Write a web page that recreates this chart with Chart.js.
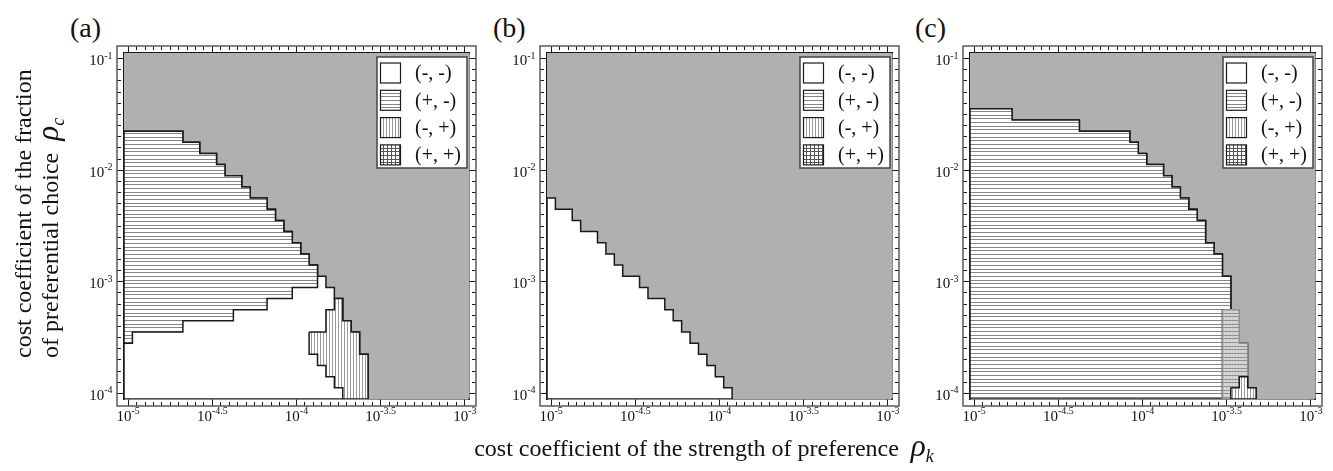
<!DOCTYPE html>
<html lang="en">
<head>
<meta charset="utf-8">
<title>Cost coefficient phase diagrams</title>
<script src="https://cdn.jsdelivr.net/npm/chart.js@4.4.1/dist/chart.umd.min.js"></script>
<style>
    html, body { margin: 0; padding: 0; background: #ffffff; }
    body { position: relative; width: 1333px; height: 471px; overflow: hidden; font-family: "Liberation Serif", "Times New Roman", serif; color: #111; }
    canvas { position: absolute; top: 0; }
    .panel-label { position: absolute; top: 14px; font-size: 28px; line-height: 1; }
    .axis-title { position: absolute; font-size: 24px; line-height: 1; white-space: nowrap; }
    .axis-title i { font-size: 1.3em; line-height: 0; }
    .axis-title sub { font-style: italic; font-size: 0.75em; line-height: 0; }
    .rot { transform: rotate(-90deg); transform-origin: 0 0; }
</style>
</head>
<body>
<div class="panel-label" style="left:70px">(a)</div>
<div class="panel-label" style="left:493px">(b)</div>
<div class="panel-label" style="left:915px">(c)</div>
<canvas id="chartA" width="445" height="471" style="left:34px"></canvas>
<canvas id="chartB" width="445" height="471" style="left:457px"></canvas>
<canvas id="chartC" width="445" height="471" style="left:880px"></canvas>
<div class="axis-title rot" style="left:11px; top:358px">cost coefficient of the fraction</div>
<div class="axis-title rot" style="left:38px; top:358px">of preferential choice&nbsp; <i>ρ</i><sub>c</sub></div>
<div class="axis-title" style="left:704px; top:436px; transform: translateX(-50%)">cost coefficient of the strength of preference&nbsp; <i>ρ</i><sub>k</sub></div>
<script>
// log10 of rho_k, one column of the diagram per value
var rhoK = [-5, -4.95, -4.9, -4.85, -4.8, -4.75, -4.7, -4.65, -4.6, -4.55,
            -4.5, -4.45, -4.4, -4.35, -4.3, -4.25, -4.2, -4.15, -4.1, -4.05,
            -4, -3.95, -3.9, -3.85, -3.8, -3.75, -3.7, -3.65, -3.6, -3.55,
            -3.5, -3.45, -3.4, -3.35, -3.3, -3.25, -3.2, -3.15, -3.1, -3.05, -3];
// log10 of rho_c, one row per value
var rhoC = [-4, -3.9, -3.8, -3.7, -3.6, -3.5, -3.4, -3.3, -3.2, -3.1,
            -3, -2.9, -2.8, -2.7, -2.6, -2.5, -2.4, -2.3, -2.2, -2.1,
            -2, -1.9, -1.8, -1.7, -1.6, -1.5, -1.4, -1.3, -1.2, -1.1, -1];
var xTickLabels = ["-5", "-4.5", "-4", "-3.5", "-3"];
var yTickLabels = ["-4", "-3", "-2", "-1"];
var regionNames = ["(-, -)", "(+, -)", "(-, +)", "(+, +)"];

// (a) lowest log10(rho_c) of the gray area in each column
var grayA = [-1.6, -1.6, -1.6, -1.6, -1.6, -1.6, -1.6, -1.7, -1.7, -1.8,
             -1.8, -1.9, -2, -2, -2.1, -2.2, -2.2, -2.3, -2.4, -2.5,
             -2.6, -2.7, -2.8, -2.9, -3, -3.1, -3.3, -3.4, -3.6, -4,
             -4, -4, -4, -4, -4, -4, -4, -4, -4, -4, -4];
// (a) region (+, -): lowest and highest row in each column
var plusMinusLoA = [-3.5, -3.4, -3.4, -3.4, -3.4, -3.4, -3.4, -3.3, -3.3, -3.3,
                    -3.3, -3.3, -3.3, -3.2, -3.2, -3.2, -3.2, -3.1, -3.1, -3.1,
                    -3, -3, -3, null, null, null, null, null, null, null,
                    null, null, null, null, null, null, null, null, null, null, null];
var plusMinusHiA = [-1.7, -1.7, -1.7, -1.7, -1.7, -1.7, -1.7, -1.8, -1.8, -1.9,
                    -1.9, -2, -2.1, -2.1, -2.2, -2.3, -2.3, -2.4, -2.5, -2.6,
                    -2.7, -2.8, -2.9, null, null, null, null, null, null, null,
                    null, null, null, null, null, null, null, null, null, null, null];
// (a) region (-, +)
var minusPlusLoA = [null, null, null, null, null, null, null, null, null, null,
                    null, null, null, null, null, null, null, null, null, null,
                    null, null, -3.6, -3.7, -3.8, -3.9, -4, -4, -4, null,
                    null, null, null, null, null, null, null, null, null, null, null];
var minusPlusHiA = [null, null, null, null, null, null, null, null, null, null,
                    null, null, null, null, null, null, null, null, null, null,
                    null, null, -3.5, -3.5, -3.3, -3.2, -3.4, -3.5, -3.7, null,
                    null, null, null, null, null, null, null, null, null, null, null];

// (b) lowest log10(rho_c) of the gray area
var grayB = [-2.2, -2.3, -2.3, -2.4, -2.5, -2.5, -2.6, -2.7, -2.8, -2.9,
             -2.9, -3, -3.1, -3.1, -3.2, -3.3, -3.4, -3.5, -3.6, -3.7,
             -3.8, -3.9, -4, -4, -4, -4, -4, -4, -4, -4,
             -4, -4, -4, -4, -4, -4, -4, -4, -4, -4, -4];

// (c) lowest log10(rho_c) of the gray area
var grayC = [-1.4, -1.4, -1.4, -1.4, -1.4, -1.5, -1.5, -1.5, -1.5, -1.5,
             -1.5, -1.5, -1.5, -1.6, -1.6, -1.6, -1.6, -1.6, -1.6, -1.7,
             -1.8, -1.9, -1.9, -2, -2.1, -2.2, -2.3, -2.4, -2.6, -2.7,
             -2.9, -3.2, -3.5, -3.9, -4, -4, -4, -4, -4, -4, -4];
var plusMinusLoC = [-4, -4, -4, -4, -4, -4, -4, -4, -4, -4,
                    -4, -4, -4, -4, -4, -4, -4, -4, -4, -4,
                    -4, -4, -4, -4, -4, -4, -4, -4, -4, -4,
                    -3.2, null, null, null, null, null, null, null, null, null, null];
var plusMinusHiC = [-1.5, -1.5, -1.5, -1.5, -1.5, -1.6, -1.6, -1.6, -1.6, -1.6,
                    -1.6, -1.6, -1.6, -1.7, -1.7, -1.7, -1.7, -1.7, -1.7, -1.8,
                    -1.9, -2, -2, -2.1, -2.2, -2.3, -2.4, -2.5, -2.7, -2.8,
                    -3, null, null, null, null, null, null, null, null, null, null];
var plusPlusLoC = [null, null, null, null, null, null, null, null, null, null,
                   null, null, null, null, null, null, null, null, null, null,
                   null, null, null, null, null, null, null, null, null, null,
                   -4, -3.9, -3.8, null, null, null, null, null, null, null, null];
var plusPlusHiC = [null, null, null, null, null, null, null, null, null, null,
                   null, null, null, null, null, null, null, null, null, null,
                   null, null, null, null, null, null, null, null, null, null,
                   -3.3, -3.3, -3.6, null, null, null, null, null, null, null, null];
var minusPlusLoC = [null, null, null, null, null, null, null, null, null, null,
                    null, null, null, null, null, null, null, null, null, null,
                    null, null, null, null, null, null, null, null, null, null,
                    null, -4, -4, -4, null, null, null, null, null, null, null];
var minusPlusHiC = [null, null, null, null, null, null, null, null, null, null,
                    null, null, null, null, null, null, null, null, null, null,
                    null, null, null, null, null, null, null, null, null, null,
                    null, -4, -3.9, -4, null, null, null, null, null, null, null];

var LINE = "#1a1a1a";
var SERIF = '"Liberation Serif", "Times New Roman", serif';

// small tiles used as hatch fills
function hatch(bg, rows, rowColor, cols, colColor) {
    var c = document.createElement("canvas");
    c.width = 12;
    c.height = 11;
    var g = c.getContext("2d");
    g.fillStyle = bg;
    g.fillRect(0, 0, 12, 11);
    g.fillStyle = colColor;
    cols.forEach(function (x) { g.fillRect(x, 0, 1, 11); });
    g.fillStyle = rowColor;
    rows.forEach(function (y) { g.fillRect(0, y, 12, 1); });
    return g.createPattern(c, "repeat");
}
var hLines = hatch("#ffffff", [1, 5, 8], "#858585", [], "#000");
var vLines = hatch("#ffffff", [], "#000", [1, 4, 7, 10], "#9a9a9a");
var gridLines = hatch("#ffffff", [1, 5, 8], "#555555", [1, 5, 9], "#555555");
var gridLight = hatch("#d8d8d8", [1, 5, 8], "#8f8f8f", [1, 4, 7, 10], "#cacaca");
var legendFills = ["#ffffff", hLines, vLines, gridLines];

// closed outline of the cells between lo[i] and hi[i] of every column
function outline(lo, hi) {
    var dx = (rhoK[1] - rhoK[0]) / 2, dy = (rhoC[1] - rhoC[0]) / 2;
    var cols = [];
    rhoK.forEach(function (k, i) {
        if (lo[i] !== null && hi[i] !== null && hi[i] >= lo[i] - 1e-9) cols.push(i);
    });
    var pts = [];
    cols.forEach(function (i) {
        pts.push({ x: rhoK[i] - dx, y: hi[i] + dy }, { x: rhoK[i] + dx, y: hi[i] + dy });
    });
    cols.reverse().forEach(function (i) {
        pts.push({ x: rhoK[i] + dx, y: lo[i] - dy }, { x: rhoK[i] - dx, y: lo[i] - dy });
    });
    if (pts.length) pts.push(pts[0]);
    return pts;
}

function region(label, lo, hi, fill, edge, order) {
    return {
        label: label,
        data: outline(lo, hi),
        backgroundColor: fill,
        borderColor: edge || "transparent",
        borderWidth: edge ? 1.5 : 0,
        fill: "shape",
        order: order
    };
}

function panelDatasets(gray, extra) {
    var step = rhoC[1] - rhoC[0];
    var top = gray.map(function () { return rhoC[rhoC.length - 1]; });
    var bottom = gray.map(function () { return rhoC[0]; });
    var whiteTop = gray.map(function (g) { return g - step; });
    return [
        region("gray", gray, top, "#b0b0b0", null, 10),
        region(regionNames[0], bottom, whiteTop, "#ffffff", LINE, 9)
    ].concat(extra);
}

function axis(position) {
    var horizontal = position === "bottom" || position === "top";
    var values = horizontal ? rhoK : rhoC;
    var labels = horizontal ? xTickLabels : yTickLabels;
    var half = (values[1] - values[0]) / 2;
    var fromFrame = position === "top" || position === "left";
    return {
        type: "linear",
        position: position,
        bounds: "data",
        min: values[0] - half,
        max: values[values.length - 1] + half,
        ticks: { display: false },
        afterBuildTicks: function (scale) {
            scale.ticks = values.map(function (v) {
                return { value: v, major: labels.indexOf(String(v)) >= 0 };
            });
        },
        afterFit: function (scale) {
            if (horizontal) scale.height = 7; else scale.width = 7;
        },
        grid: {
            drawOnChartArea: false,
            drawTicks: true,
            tickLength: 7,
            lineWidth: 1,
            tickWidth: 1,
            tickColor: LINE,
            tickBorderDash: function (ctx) {
                if (ctx.tick && ctx.tick.major) return [];
                return fromFrame ? [4, 20] : [0, 2.5, 4, 20];
            }
        },
        border: { display: true, color: LINE, width: 1.5 }
    };
}

// "10" with a raised exponent
function power(ctx, exp, x, baseline, align) {
    ctx.font = "15px " + SERIF;
    var wb = ctx.measureText("10").width;
    ctx.font = "10px " + SERIF;
    var we = ctx.measureText(exp).width;
    var left = align === "center" ? x - (wb + we) / 2 : x - wb - we;
    ctx.fillStyle = "#111";
    ctx.textAlign = "left";
    ctx.textBaseline = "alphabetic";
    ctx.font = "15px " + SERIF;
    ctx.fillText("10", left, baseline);
    ctx.font = "10px " + SERIF;
    ctx.fillText(exp, left + wb, baseline - 6.5);
}

var frameAndLabels = {
    id: "frameAndLabels",
    afterDraw: function (chart) {
        var a = chart.chartArea, ctx = chart.ctx, gap = 7;
        ctx.save();
        ctx.strokeStyle = "#5a5a5a";
        ctx.lineWidth = 1.5;
        ctx.strokeRect(a.left - gap, a.top - gap, a.right - a.left + 2 * gap, a.bottom - a.top + 2 * gap);
        xTickLabels.forEach(function (e) {
            power(ctx, e, chart.scales.x.getPixelForValue(Number(e)), a.bottom + gap + 14.5, "center");
        });
        yTickLabels.forEach(function (e) {
            power(ctx, e, a.left - gap - 4.5, chart.scales.y.getPixelForValue(Number(e)) + 6.5, "right");
        });
        ctx.restore();
    }
};

var legendBox = {
    id: "legendBox",
    afterDraw: function (chart) {
        var a = chart.chartArea, ctx = chart.ctx;
        var w = 90, h = 111, x0 = a.right - w - 2, y0 = a.top + 4;
        ctx.save();
        ctx.fillStyle = "#ffffff";
        ctx.fillRect(x0, y0, w, h);
        ctx.strokeStyle = "#444";
        ctx.lineWidth = 1.5;
        ctx.strokeRect(x0, y0, w, h);
        regionNames.forEach(function (name, k) {
            var sy = y0 + 6 + 27.3 * k;
            ctx.fillStyle = legendFills[k];
            ctx.fillRect(x0 + 3.5, sy, 20, 20);
            ctx.strokeStyle = LINE;
            ctx.lineWidth = 1.2;
            ctx.strokeRect(x0 + 3.5, sy, 20, 20);
            ctx.fillStyle = "#111";
            ctx.font = "20px " + SERIF;
            ctx.textAlign = "left";
            ctx.textBaseline = "middle";
            ctx.fillText(name, x0 + 38, sy + 11);
        });
        ctx.restore();
    }
};

function makeChart(id, datasets) {
    return new Chart(document.getElementById(id), {
        type: "line",
        data: { datasets: datasets },
        options: {
            responsive: false,
            animation: false,
            events: [],
            layout: { padding: { left: 83, top: 46, right: 3, bottom: 65 } },
            elements: {
                point: { radius: 0 },
                line: { tension: 0, borderJoinStyle: "miter" }
            },
            plugins: { legend: { display: false }, tooltip: { enabled: false } },
            scales: { x: axis("bottom"), x2: axis("top"), y: axis("left"), y2: axis("right") }
        },
        plugins: [frameAndLabels, legendBox]
    });
}

makeChart("chartA", panelDatasets(grayA, [
    region(regionNames[1], plusMinusLoA, plusMinusHiA, hLines, LINE, 3),
    region(regionNames[2], minusPlusLoA, minusPlusHiA, vLines, LINE, 1)
]));
makeChart("chartB", panelDatasets(grayB, []));
makeChart("chartC", panelDatasets(grayC, [
    region(regionNames[1], plusMinusLoC, plusMinusHiC, hLines, LINE, 3),
    region(regionNames[3], plusPlusLoC, plusPlusHiC, gridLight, "#8f8f8f", 2),
    region(regionNames[2], minusPlusLoC, minusPlusHiC, vLines, LINE, 1)
]));
</script>
</body>
</html>
